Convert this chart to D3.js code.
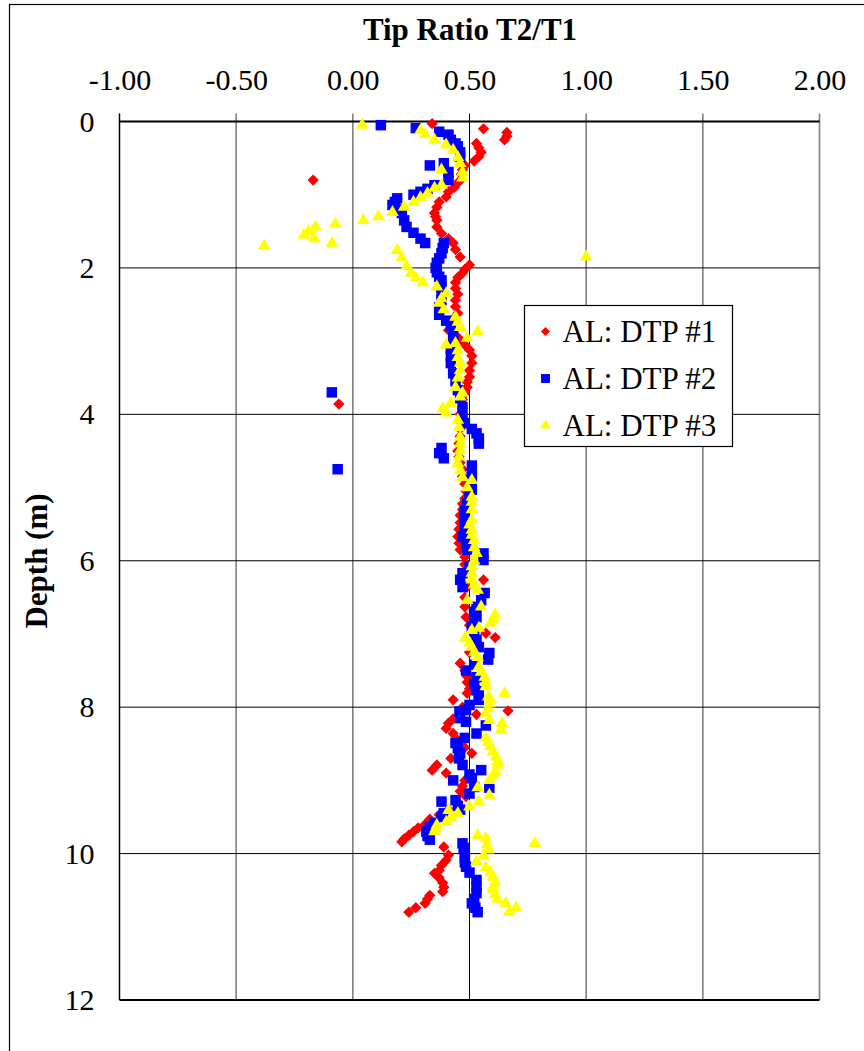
<!DOCTYPE html>
<html>
<head>
<meta charset="utf-8">
<script src="https://cdn.jsdelivr.net/npm/d3@7"></script>
<style>
  body { margin: 0; background: #fff; }
  text { font-family: "Liberation Serif", "Times New Roman", serif; }
</style>
</head>
<body>
<div id="chart"></div>
<script>
// [depth (m), tip ratio T2/T1]
const dtp1 = [
  [0.03,0.34],[0.10,0.56],[0.15,0.66],[0.20,0.66],[0.25,0.65],[0.30,0.53],[0.36,0.54],[0.42,0.55],
  [0.48,0.54],[0.54,0.52],[0.60,0.48],[0.66,0.47],[0.72,0.465],[0.80,-0.17],[0.82,0.455],[0.90,0.435],
  [0.96,0.41],[1.03,0.40],[1.10,0.37],[1.17,0.36],[1.25,0.35],[1.30,0.355],[1.35,0.36],[1.44,0.36],
  [1.53,0.38],[1.60,0.41],[1.66,0.43],[1.75,0.44],[1.85,0.46],[1.96,0.50],[2.02,0.48],[2.07,0.47],
  [2.13,0.45],[2.20,0.44],[2.28,0.44],[2.36,0.45],[2.44,0.44],[2.53,0.44],[2.62,0.45],[2.70,0.43],
  [2.78,0.42],[2.85,0.41],[2.92,0.44],[2.98,0.46],[3.05,0.48],[3.12,0.50],[3.20,0.51],[3.30,0.51],
  [3.40,0.50],[3.49,0.50],[3.56,0.49],[3.63,0.49],[3.72,0.48],[3.80,0.47],[3.86,-0.06],[3.92,0.47],
  [4.00,0.46],[4.10,0.46],[4.20,0.46],[4.30,0.46],[4.40,0.455],[4.50,0.45],[4.58,0.455],[4.66,0.46],
  [4.75,0.47],[4.85,0.47],[4.95,0.48],[5.05,0.485],[5.15,0.48],[5.22,0.47],[5.30,0.47],[5.38,0.46],
  [5.48,0.46],[5.57,0.455],[5.67,0.45],[5.76,0.455],[5.85,0.46],[5.95,0.48],[6.05,0.48],[6.15,0.49],
  [6.26,0.56],[6.36,0.49],[6.50,0.48],[6.63,0.48],[6.77,0.485],[6.88,0.50],[6.99,0.57],[7.05,0.61],
  [7.15,0.52],[7.25,0.50],[7.40,0.46],[7.50,0.48],[7.58,0.49],[7.66,0.49],[7.75,0.50],[7.81,0.49],
  [7.90,0.43],[8.00,0.47],[8.05,0.665],[8.10,0.53],[8.16,0.43],[8.22,0.41],[8.29,0.40],[8.36,0.43],
  [8.45,0.45],[8.55,0.48],[8.63,0.51],[8.70,0.42],[8.79,0.36],[8.86,0.34],[8.90,0.40],[9.00,0.48],
  [9.08,0.47],[9.15,0.46],[9.22,0.485],[9.30,0.45],[9.40,0.41],[9.47,0.37],[9.53,0.33],[9.60,0.31],
  [9.65,0.28],[9.70,0.26],[9.75,0.24],[9.80,0.22],[9.84,0.21],[9.91,0.39],[10.02,0.41],[10.09,0.40],
  [10.16,0.38],[10.23,0.37],[10.27,0.35],[10.33,0.37],[10.40,0.385],[10.46,0.39],[10.52,0.385],[10.57,0.33],
  [10.62,0.32],[10.68,0.31],[10.74,0.27],[10.80,0.24]
];

const dtp2 = [
  [0.05,0.12],[0.09,0.27],[0.14,0.37],[0.18,0.41],[0.25,0.42],[0.30,0.44],[0.34,0.45],[0.42,0.46],
  [0.48,0.46],[0.57,0.39],[0.60,0.33],[0.69,0.41],[0.80,0.41],[0.87,0.35],[0.92,0.32],[0.96,0.29],
  [1.00,0.26],[1.05,0.19],[1.10,0.18],[1.14,0.17],[1.20,0.19],[1.25,0.21],[1.35,0.22],[1.44,0.23],
  [1.52,0.26],[1.60,0.29],[1.66,0.31],[1.66,0.39],[1.73,0.385],[1.80,0.38],[1.87,0.37],[1.93,0.36],
  [2.00,0.355],[2.06,0.36],[2.12,0.37],[2.17,0.38],[2.26,0.38],[2.35,0.38],[2.44,0.38],[2.54,0.37],
  [2.64,0.37],[2.72,0.40],[2.80,0.42],[2.90,0.43],[3.00,0.43],[3.10,0.42],[3.20,0.42],[3.30,0.42],
  [3.44,0.43],[3.55,0.44],[3.67,0.45],[3.70,-0.09],[3.78,0.46],[3.90,0.47],[4.04,0.47],[4.12,0.48],
  [4.20,0.51],[4.26,0.53],[4.33,0.54],[4.40,0.54],[4.46,0.38],[4.53,0.37],[4.60,0.39],[4.70,0.51],
  [4.75,-0.065],[4.80,0.51],[4.86,0.51],[4.95,0.51],[5.03,0.51],[5.12,0.50],[5.22,0.49],[5.32,0.48],
  [5.42,0.48],[5.50,0.48],[5.58,0.48],[5.67,0.47],[5.76,0.485],[5.85,0.49],[5.90,0.56],[5.99,0.56],
  [6.08,0.50],[6.17,0.47],[6.26,0.46],[6.36,0.47],[6.44,0.565],[6.54,0.55],[6.63,0.53],[6.70,0.52],
  [6.77,0.53],[6.85,0.52],[6.90,0.51],[6.98,0.52],[7.08,0.53],[7.18,0.54],[7.26,0.585],[7.35,0.58],
  [7.42,0.52],[7.50,0.485],[7.59,0.53],[7.68,0.52],[7.77,0.53],[7.84,0.54],[7.90,0.54],[7.97,0.50],
  [8.04,0.485],[8.06,0.457],[8.15,0.46],[8.20,0.485],[8.25,0.57],[8.36,0.53],[8.42,0.48],[8.49,0.44],
  [8.56,0.45],[8.63,0.46],[8.70,0.455],[8.79,0.47],[8.86,0.55],[8.92,0.50],[8.97,0.51],[9.00,0.43],
  [9.09,0.52],[9.10,0.585],[9.18,0.50],[9.27,0.44],[9.29,0.38],[9.35,0.45],[9.40,0.46],[9.45,0.39],
  [9.50,0.38],[9.58,0.35],[9.64,0.33],[9.70,0.315],[9.76,0.32],[9.81,0.33],[9.86,0.47],[9.92,0.475],
  [9.98,0.48],[10.05,0.48],[10.12,0.48],[10.18,0.485],[10.26,0.50],[10.36,0.53],[10.45,0.53],[10.54,0.53],
  [10.62,0.52],[10.68,0.51],[10.74,0.525],[10.80,0.535]
];

const dtp3 = [
  [0.05,0.04],[0.12,0.29],[0.18,0.31],[0.25,0.35],[0.32,0.40],[0.39,0.43],[0.49,0.45],[0.57,0.46],
  [0.66,0.38],[0.69,0.47],[0.77,0.47],[0.87,0.38],[0.91,0.35],[0.98,0.32],[1.04,0.29],[1.10,0.26],
  [1.17,0.22],[1.24,0.17],[1.30,0.11],[1.35,0.045],[1.40,-0.075],[1.44,-0.16],[1.50,-0.19],[1.55,-0.21],
  [1.60,-0.165],[1.66,-0.09],[1.70,-0.38],[1.76,0.19],[1.85,1.00],[1.86,0.21],[1.98,0.23],[2.07,0.25],
  [2.14,0.27],[2.20,0.30],[2.26,0.36],[2.35,0.40],[2.42,0.38],[2.48,0.37],[2.57,0.39],[2.67,0.44],
  [2.74,0.45],[2.81,0.46],[2.87,0.535],[2.96,0.49],[3.03,0.44],[3.05,0.40],[3.13,0.45],[3.22,0.45],
  [3.30,0.46],[3.40,0.46],[3.50,0.45],[3.63,0.44],[3.71,0.47],[3.76,0.46],[3.85,0.42],[3.92,0.385],
  [3.98,0.40],[4.08,0.45],[4.18,0.455],[4.31,0.46],[4.40,0.46],[4.49,0.46],[4.58,0.455],[4.67,0.45],
  [4.76,0.46],[4.86,0.47],[4.90,0.51],[5.00,0.49],[5.13,0.51],[5.20,0.51],[5.30,0.51],[5.44,0.51],
  [5.51,0.50],[5.58,0.51],[5.65,0.51],[5.72,0.52],[5.82,0.52],[5.90,0.53],[6.00,0.52],[6.08,0.51],
  [6.17,0.51],[6.26,0.51],[6.33,0.52],[6.40,0.535],[6.54,0.49],[6.63,0.55],[6.74,0.61],[6.80,0.60],
  [6.85,0.59],[6.92,0.54],[6.95,0.51],[7.06,0.48],[7.12,0.50],[7.18,0.51],[7.25,0.52],[7.32,0.535],
  [7.45,0.54],[7.52,0.55],[7.59,0.565],[7.66,0.57],[7.72,0.57],[7.81,0.65],[7.86,0.58],[7.90,0.59],
  [7.95,0.585],[8.02,0.58],[8.08,0.57],[8.18,0.585],[8.22,0.64],[8.31,0.635],[8.42,0.57],[8.48,0.58],
  [8.54,0.59],[8.61,0.60],[8.68,0.615],[8.74,0.62],[8.79,0.62],[8.88,0.61],[8.94,0.60],[9.00,0.585],
  [9.10,0.535],[9.20,0.585],[9.29,0.54],[9.36,0.50],[9.41,0.41],[9.45,0.45],[9.51,0.42],[9.57,0.40],
  [9.61,0.36],[9.66,0.355],[9.70,0.35],[9.75,0.535],[9.79,0.57],[9.86,0.78],[9.88,0.575],[9.95,0.58],
  [10.03,0.56],[10.11,0.53],[10.19,0.57],[10.26,0.59],[10.32,0.60],[10.40,0.61],[10.46,0.60],[10.50,0.60],
  [10.56,0.61],[10.62,0.62],[10.68,0.655],[10.74,0.70],[10.80,0.67]
];

const seriesNames = ["AL: DTP #1", "AL: DTP #2", "AL: DTP #3"];
const xTicks = [-1, -0.5, 0, 0.5, 1, 1.5, 2];
const yTicks = [0, 2, 4, 6, 8, 10, 12];

const width = 864, height = 1051;
const svg = d3.select("#chart").append("svg").attr("width", width).attr("height", height);

// outer chart frame (runs off the right and bottom edges)
svg.append("rect")
  .attr("x", 9.5).attr("y", 4.5)
  .attr("width", 900).attr("height", 1100)
  .attr("fill", "none").attr("stroke", "#000").attr("stroke-width", 1.2);

const x = d3.scaleLinear().domain([-1, 2]).range([119.5, 819.5]);
const y = d3.scaleLinear().domain([0, 12]).range([121.5, 1000]);

// vertical gridlines, with small ticks above the top axis
svg.append("g").selectAll("line")
  .data(xTicks)
  .join("line")
  .attr("x1", d => x(d)).attr("x2", d => x(d))
  .attr("y1", y(0) - 8).attr("y2", y(12))
  .attr("stroke", d => d === 0.5 ? "#000" : "#808080")
  .attr("stroke-width", d => d === 0.5 ? 1 : 1.6);

// horizontal gridlines
svg.append("g").selectAll("line")
  .data(yTicks)
  .join("line")
  .attr("x1", x(-1)).attr("x2", x(2))
  .attr("y1", d => y(d)).attr("y2", d => y(d))
  .attr("stroke", "#000")
  .attr("stroke-width", d => (d === 0 || d === 12) ? 2 : 1);

svg.append("line")
  .attr("x1", x(-1)).attr("x2", x(-1))
  .attr("y1", y(0) - 8).attr("y2", y(12))
  .attr("stroke", "#000").attr("stroke-width", 1.2);

// axis labels
const xAxis = svg.append("g")
  .attr("transform", `translate(0,${y(0)})`)
  .call(d3.axisTop(x).tickValues(xTicks).tickFormat(d => d.toFixed(2)).tickSize(0).tickPadding(32));
xAxis.select(".domain").remove();
xAxis.selectAll("text").attr("font-size", 30).attr("fill", "#000")
  .style("font-family", "'Liberation Serif', 'Times New Roman', serif");

const yAxis = svg.append("g")
  .attr("transform", `translate(${x(-1)},0)`)
  .call(d3.axisLeft(y).tickValues(yTicks).tickSize(0).tickPadding(25));
yAxis.select(".domain").remove();
yAxis.selectAll("text").attr("font-size", 30).attr("fill", "#000")
  .style("font-family", "'Liberation Serif', 'Times New Roman', serif");

svg.append("text")
  .attr("x", 470).attr("y", 40)
  .attr("text-anchor", "middle")
  .attr("font-size", 31).attr("font-weight", "bold")
  .text("Tip Ratio T2/T1");

svg.append("text")
  .attr("transform", "translate(47,561) rotate(-90)")
  .attr("text-anchor", "middle")
  .attr("font-size", 31).attr("font-weight", "bold")
  .text("Depth (m)");

// markers
const diamond = d3.symbol().type(d3.symbolSquare).size(64);
const square = d3.symbol().type(d3.symbolSquare).size(110);
const triangle = d3.symbol().type(d3.symbolTriangle).size(70);

const styles = [
  { data: dtp1, path: diamond(), fill: "#FF0000", rot: 45 },
  { data: dtp2, path: square(), fill: "#0000FF", rot: 0 },
  { data: dtp3, path: triangle(), fill: "#FFFF00", rot: 0 }
];

styles.forEach(s => {
  svg.append("g").selectAll("path")
    .data(s.data)
    .join("path")
    .attr("d", s.path)
    .attr("transform", d => `translate(${x(d[1])},${y(d[0])}) rotate(${s.rot})`)
    .attr("fill", s.fill);
});

// legend
const legend = svg.append("g").attr("transform", "translate(524.5,305.5)");
legend.append("rect")
  .attr("width", 208).attr("height", 141)
  .attr("fill", "#fff").attr("stroke", "#000").attr("stroke-width", 1.2);

const legendSymbols = [
  d3.symbol().type(d3.symbolSquare).size(40)(),
  d3.symbol().type(d3.symbolSquare).size(80)(),
  d3.symbol().type(d3.symbolTriangle).size(50)()
];

seriesNames.forEach((name, i) => {
  const row = legend.append("g").attr("transform", `translate(0,${26 + i * 47})`);
  row.append("path")
    .attr("d", legendSymbols[i])
    .attr("transform", `translate(21,0) rotate(${i === 0 ? 45 : 0})`)
    .attr("fill", styles[i].fill);
  row.append("text")
    .attr("x", 38).attr("y", 10)
    .attr("font-size", 31)
    .text(name);
});
</script>
</body>
</html>
